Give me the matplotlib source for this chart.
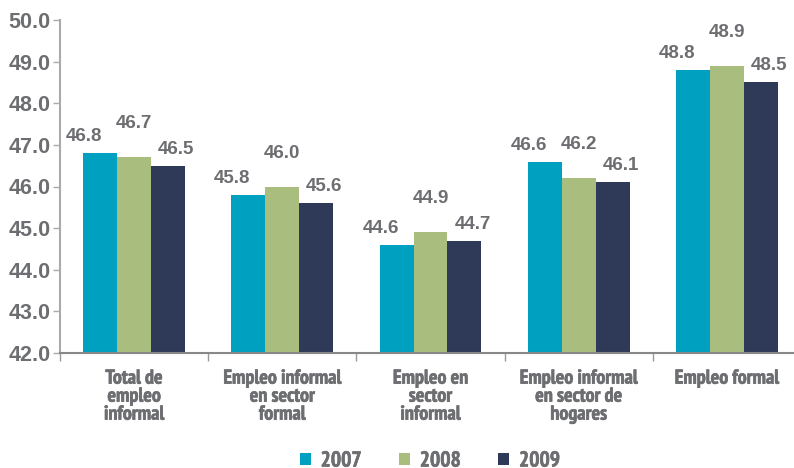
import matplotlib
matplotlib.use("Agg")
import matplotlib.pyplot as plt
from matplotlib import font_manager
from matplotlib.font_manager import FontProperties
import matplotlib.patheffects as pe
import numpy as np

categories = ["Total de\nempleo\ninformal",
              "Empleo informal\nen sector\nformal",
              "Empleo en\nsector\ninformal",
              "Empleo informal\nen sector de\nhogares",
              "Empleo formal"]
years = ["2007", "2008", "2009"]
values_2007 = [46.8, 45.8, 44.6, 46.6, 48.8]
values_2008 = [46.7, 46.0, 44.9, 46.2, 48.9]
values_2009 = [46.5, 45.6, 44.7, 46.1, 48.5]
yticks = [42.0, 43.0, 44.0, 45.0, 46.0, 47.0, 48.0, 49.0, 50.0]

colors = ["#00a0c0", "#a9bd7f", "#2e3a58"]
gray = "#6d6e71"


def find_narrow_bold():
    """Return (file, kind, weight) of the narrowest bold sans face available."""
    best = None
    for f in font_manager.fontManager.ttflist:
        name = f.name.lower()
        fname = f.fname.lower()
        if "mono" in name or "italic" in fname or "oblique" in fname or f.style != "normal":
            continue
        if "narrow" in name or "narrow" in fname:
            rank = 3
        elif "condensed" in name or "condensed" in fname or f.stretch != "normal":
            rank = 2
        else:
            continue
        w = f.weight if isinstance(f.weight, int) else (700 if "bold" in str(f.weight) else 400)
        if "bold" in fname and w < 700:
            w = 700
        score = (rank, -abs(w - 700))
        if best is None or score > best[0]:
            best = (score, f.fname, rank, w)
    return (best[1], best[2], best[3]) if best else (None, 0, 700)


cond_file, kind, cond_weight = find_narrow_bold()
if kind == 3:
    cat_font = FontProperties(fname=cond_file, size=14.5)
    leg_font = FontProperties(fname=cond_file, size=15.5)
elif kind == 2:
    cat_font = FontProperties(fname=cond_file, size=12)
    leg_font = FontProperties(fname=cond_file, size=14)
else:
    cat_font = FontProperties(family="Liberation Sans", weight="bold", size=11)
    leg_font = FontProperties(family="Liberation Sans", weight="bold", size=13)

# heavier strokes for the condensed captions
embolden = [pe.withStroke(linewidth=0.9 if cond_weight < 700 else 0.45,
                          foreground=gray)]

num_family = ["Liberation Sans", "DejaVu Sans"]

fig = plt.figure(figsize=(7.94, 4.68), dpi=100)
ax = fig.add_axes([60 / 794, 115 / 468, 741 / 794, 333 / 468])

series = [values_2007, values_2008, values_2009]
x = np.arange(len(categories))
w = 0.229
# label offsets in pixels (dx, dy) for each series
offsets = [(-16, 8), (0, 25), (8, 8)]
for i, (vals, col, yr) in enumerate(zip(series, colors, years)):
    pos = x + (i - 1) * w
    ax.bar(pos, [v - 42.0 for v in vals], bottom=42.0, width=w,
           color=col, label=yr, zorder=2)
    dx, dy = offsets[i]
    for px, v in zip(pos, vals):
        ax.annotate(f"{v:.1f}", (px, v), xytext=(dx * 0.72, dy * 0.72),
                    textcoords="offset points", ha="center", va="bottom",
                    fontsize=13.5, fontweight="bold", color=gray,
                    family=num_family)

ax.set_xlim(-0.5, len(categories) - 0.5)
ax.set_ylim(42.0, 50.0)
ax.set_yticks(yticks)
ax.set_yticklabels([f"{t:.1f}" for t in yticks], fontsize=15.5,
                   fontweight="bold", color=gray, family=num_family)
ax.set_xticks(np.arange(len(categories) + 1) - 0.5)
ax.set_xticklabels([])
ax.tick_params(axis="x", length=6, color="#999999", width=1)
ax.tick_params(axis="y", length=5, color="#aaaaaa", width=1, pad=2)
for s in ["top", "right"]:
    ax.spines[s].set_visible(False)
ax.spines["left"].set_color("#aaaaaa")
ax.spines["left"].set_linewidth(1.5)
ax.spines["bottom"].set_color("#888888")
ax.spines["bottom"].set_linewidth(1.5)

for xi, cat in zip(x, categories):
    ax.text(xi, 41.6, cat, ha="center", va="top", fontproperties=cat_font,
            color=gray, linespacing=1.0, transform=ax.transData,
            path_effects=embolden)

leg = fig.legend(loc="center", bbox_to_anchor=(430 / 794, 1 - 461 / 468),
                 ncol=3, frameon=False, handlelength=0.5,
                 handleheight=0.5, handletextpad=0.45, columnspacing=1.75,
                 prop=leg_font)
for t in leg.get_texts():
    t.set_color(gray)
    t.set_path_effects(embolden)

fig.savefig("out.png", dpi=100)
